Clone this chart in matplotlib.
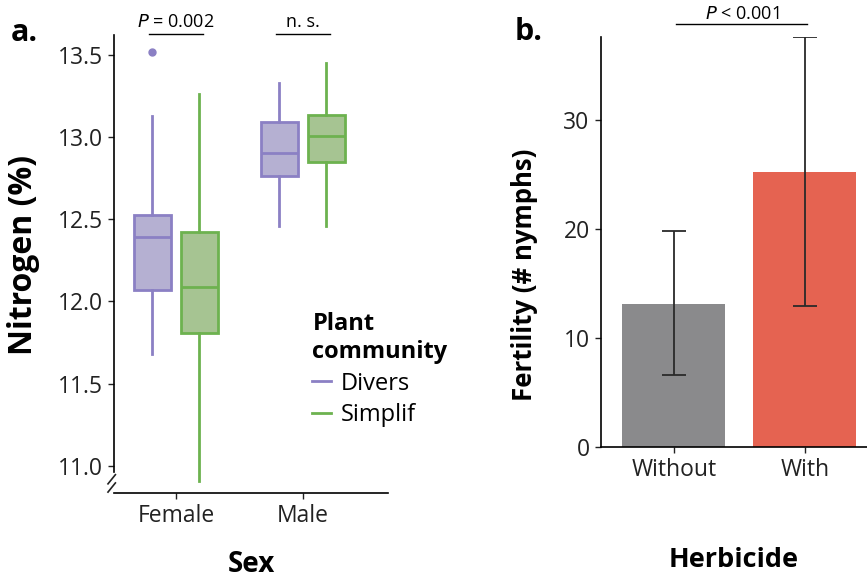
import numpy as np
import matplotlib
matplotlib.use("Agg")
import matplotlib.pyplot as plt
from matplotlib.lines import Line2D

plt.rcParams['font.family'] = ['Open Sans', 'DejaVu Sans']

# Panel a: nitrogen boxplots
sexes = ["Female", "Male"]
communities = ["Divers", "Simplif"]
whislo = [[11.68, 12.46], [10.91, 12.46]]
q1 = [[12.07, 12.76], [11.81, 12.845]]
med = [[12.39, 12.905], [12.09, 13.005]]
q3 = [[12.525, 13.09], [12.425, 13.135]]
whishi = [[13.13, 13.33], [13.26, 13.45]]
fliers = [[[13.515], []], [[], []]]

# Panel b: fertility bars
herbicide = ["Without", "With"]
fertility = [13.1, 25.25]
err_low = [6.55, 12.95]
err_high = [19.8, 37.65]

edge_cols = ["#8b80c4", "#6db24f"]
fill_cols = ["#b5b0d2", "#a6c492"]
bar_cols = ["#8a8a8c", "#e56351"]

fig = plt.figure(figsize=(8.67, 5.82), dpi=100)

# ---------- panel a ----------
ax = fig.add_axes([0.1315, 0.1529, 0.316, 0.787])
offset = 0.185
bw = 0.29
for c, comm in enumerate(communities):
    stats = []
    for s in range(len(sexes)):
        stats.append(dict(med=med[c][s], q1=q1[c][s], q3=q3[c][s],
                          whislo=whislo[c][s], whishi=whishi[c][s],
                          fliers=fliers[c][s]))
    pos = np.arange(len(sexes)) + (offset if c else -offset)
    ax.bxp(stats, positions=pos, widths=bw, patch_artist=True, showcaps=False,
           boxprops=dict(facecolor=fill_cols[c], edgecolor=edge_cols[c], linewidth=2),
           medianprops=dict(color=edge_cols[c], linewidth=2),
           whiskerprops=dict(color=edge_cols[c], linewidth=2),
           flierprops=dict(marker='o', markersize=5, markerfacecolor=edge_cols[c],
                           markeredgecolor=edge_cols[c]),
           manage_ticks=False)

ax.set_xlim(-0.488, 1.67)
ax.set_ylim(10.835, 13.62)
ax.set_xticks(range(len(sexes)))
ax.set_xticklabels(sexes)
ax.set_yticks([11.0, 11.5, 12.0, 12.5, 13.0, 13.5])
ax.set_yticklabels(["11.0", "11.5", "12.0", "12.5", "13.0", "13.5"])
ax.tick_params(labelsize=16.5, length=4, width=1, colors='#222222', pad=4)
for sp in ['top', 'right']:
    ax.spines[sp].set_visible(False)
ax.spines['left'].set_bounds(10.96, 13.62)
ax.spines['left'].set_linewidth(1.2)
ax.spines['bottom'].set_linewidth(1.2)
# axis break marks
for yy in [0.012, 0.030]:
    ax.plot([-0.022, 0.005], [yy - 0.01, yy + 0.01], transform=ax.transAxes,
            color='#222222', lw=1.2, clip_on=False)
ax.set_ylabel("Nitrogen (%)", fontsize=23, fontweight='bold')
ax.yaxis.set_label_coords(-0.27, 0.52)
ax.set_xlabel("Sex", fontsize=20, fontweight='bold', labelpad=16)

# significance bars
for s, label in enumerate(["$P$ = 0.002", "n. s."]):
    x0, x1 = s - offset - 0.03, s + offset + 0.03
    ax.plot([x0, x1], [1.003, 1.003], transform=ax.get_xaxis_transform(),
            color='black', lw=1, clip_on=False)
    ax.text(s, 1.008, label, transform=ax.get_xaxis_transform(), ha='center',
            va='bottom', fontsize=13)

handles = [Line2D([0], [0], color=edge_cols[i], lw=2) for i in range(2)]
leg = ax.legend(handles, communities, title="Plant\ncommunity", loc='upper left',
                bbox_to_anchor=(0.69, 0.415), frameon=False, fontsize=17,
                title_fontproperties=dict(size=17, weight='bold'),
                handlelength=0.8, handletextpad=0.4, labelspacing=0.32,
                borderaxespad=0)
leg._legend_box.align = "left"

fig.text(0.012, 0.93, "a.", fontsize=22, fontweight='bold')

# ---------- panel b ----------
bx = fig.add_axes([0.6929, 0.2325, 0.3071, 0.7045])
xb = np.arange(len(herbicide))
yerr = [np.array(fertility) - np.array(err_low), np.array(err_high) - np.array(fertility)]
bx.bar(xb, fertility, width=0.785, color=bar_cols)
bx.errorbar(xb, fertility, yerr=yerr, fmt='none', ecolor='#2a2a2a', elinewidth=1.3,
            capsize=8.3, capthick=1.3)
bx.set_xlim(-0.557, 1.475)
bx.set_ylim(0, 37.7)
bx.set_yticks([0, 10, 20, 30])
bx.set_xticks(xb)
bx.set_xticklabels(herbicide)
bx.tick_params(labelsize=16.5, length=4, width=1, colors='#222222', pad=4)
for sp in ['top', 'right']:
    bx.spines[sp].set_visible(False)
bx.spines['left'].set_linewidth(1.2)
bx.spines['bottom'].set_linewidth(1.2)
bx.set_ylabel("Fertility (# nymphs)", fontsize=18.5, fontweight='bold')
bx.yaxis.set_label_coords(-0.235, 0.42)
bx.set_xlabel("Herbicide", fontsize=19.5, fontweight='bold', labelpad=47)

bx.plot([0.02, 1.02], [1.03, 1.03], transform=bx.get_xaxis_transform(),
        color='black', lw=1, clip_on=False)
bx.text(0.52, 1.034, "$P$ < 0.001", transform=bx.get_xaxis_transform(), ha='center',
        va='bottom', fontsize=13)

fig.text(0.594, 0.932, "b.", fontsize=22, fontweight='bold')

fig.savefig("out.png", dpi=100)
